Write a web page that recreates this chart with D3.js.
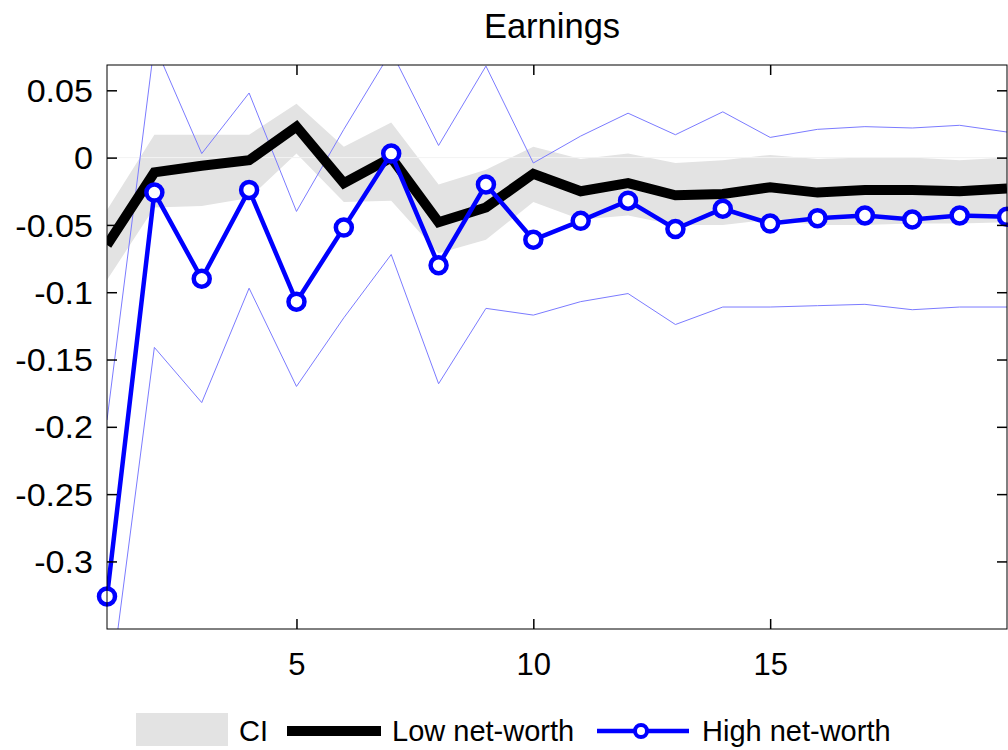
<!DOCTYPE html>
<html>
<head>
<meta charset="utf-8">
<script src="https://cdnjs.cloudflare.com/ajax/libs/d3/7.8.5/d3.min.js"></script>
<style>
  html, body { margin: 0; padding: 0; background: #fff; }
  svg { display: block; }
  text { font-family: "Liberation Sans", Arial, Helvetica, sans-serif; fill: #000; }
</style>
</head>
<body>
<svg id="chart" width="1008" height="750"></svg>
<script>
// ---------- data ----------
const periods = [1,2,3,4,5,6,7,8,9,10,11,12,13,14,15,16,17,18,19,20];
const lowNetWorth = [-0.065,-0.011,-0.006,-0.002,0.023,-0.019,0.000,-0.048,-0.037,-0.012,-0.025,-0.019,-0.028,-0.027,-0.022,-0.026,-0.024,-0.024,-0.025,-0.023];
const highNetWorth = [-0.326,-0.026,-0.090,-0.024,-0.107,-0.052,0.003,-0.080,-0.020,-0.061,-0.047,-0.032,-0.053,-0.038,-0.049,-0.045,-0.043,-0.046,-0.043,-0.044];
const ciLowUpper = [-0.039,0.017,0.017,0.017,0.040,0.008,0.026,-0.020,-0.009,0.008,-0.001,0.003,-0.004,-0.002,0.002,-0.001,0.000,0.000,-0.002,0.000];
const ciLowLower = [-0.091,-0.037,-0.036,-0.030,0.003,-0.033,-0.032,-0.071,-0.061,-0.033,-0.046,-0.043,-0.050,-0.050,-0.046,-0.050,-0.050,-0.049,-0.049,-0.048];
const highUpper = [-0.195,0.084,0.003,0.048,-0.040,0.021,0.079,0.009,0.068,-0.004,0.016,0.033,0.017,0.034,0.015,0.021,0.023,0.022,0.024,0.019];
const highLower = [-0.413,-0.141,-0.182,-0.097,-0.170,-0.119,-0.072,-0.168,-0.112,-0.117,-0.107,-0.101,-0.124,-0.111,-0.111,-0.110,-0.109,-0.113,-0.111,-0.111];
const yTickValues = [0.05,0,-0.05,-0.1,-0.15,-0.2,-0.25,-0.3];
const yTickLabels = ["0.05","0","-0.05","-0.1","-0.15","-0.2","-0.25","-0.3"];
const xTickValues = [5,10,15];
const xTickLabels = ["5","10","15"];
const titleText = "Earnings";
const legendLabels = ["CI","Low net-worth","High net-worth"];

// ---------- layout ----------
const svg = d3.select("#chart");
const L = 107, R = 1007, T = 65, B = 629;
const x = d3.scaleLinear().domain([1,20]).range([L,R]);
const y = d3.scaleLinear().domain([-0.3502,0.0688]).range([B,T]);

const rows = periods.map((p,i)=>({p, low:lowNetWorth[i], high:highNetWorth[i],
  cu:ciLowUpper[i], cl:ciLowLower[i], hu:highUpper[i], hl:highLower[i]}));

svg.append("defs").append("clipPath").attr("id","clip")
  .append("rect").attr("x",L).attr("y",T).attr("width",R-L).attr("height",B-T);

const plot = svg.append("g").attr("clip-path","url(#clip)");

// CI band
plot.append("path").datum(rows)
  .attr("d", d3.area().x(d=>x(d.p)).y0(d=>y(d.cl)).y1(d=>y(d.cu)))
  .attr("fill","#e3e3e3").attr("stroke","none");

// zero line
plot.append("line").attr("x1",L).attr("x2",R).attr("y1",y(0)).attr("y2",y(0))
  .attr("stroke","#f3f3f3").attr("stroke-width",1);

// thin blue bounds
const lineGen = key => d3.line().x(d=>x(d.p)).y(d=>y(d[key]));
["hu","hl"].forEach(k=>{
  plot.append("path").attr("d",lineGen(k)(rows))
    .attr("fill","none").attr("stroke","#7b7bff").attr("stroke-width",1);
});

// low net-worth
plot.append("path").attr("d",lineGen("low")(rows))
  .attr("fill","none").attr("stroke","#000").attr("stroke-width",10)
  .attr("stroke-linejoin","miter");

// high net-worth
plot.append("path").attr("d",lineGen("high")(rows))
  .attr("fill","none").attr("stroke","#0000ff").attr("stroke-width",4.5);
svg.append("g").selectAll("circle").data(rows).join("circle")
  .attr("cx",d=>x(d.p)).attr("cy",d=>y(d.high)).attr("r",8)
  .attr("fill","#fff").attr("stroke","#0000ff").attr("stroke-width",4.5);

// ---------- axes ----------
const yAx = svg.append("g").attr("transform",`translate(${L},0)`)
  .call(d3.axisLeft(y).tickValues(yTickValues).tickSize(-10).tickPadding(14)
    .tickFormat((d,i)=>yTickLabels[i]));
yAx.selectAll("text").style("font-size","31px").attr("dy","0.36em")
  .attr("x",-14/1.1).attr("transform","scale(1.1,1)");
const yAxR = svg.append("g").attr("transform",`translate(${R},0)`)
  .call(d3.axisRight(y).tickValues(yTickValues).tickSize(-10).tickFormat(""));
const xAx = svg.append("g").attr("transform",`translate(0,${B})`)
  .call(d3.axisBottom(x).tickValues(xTickValues).tickSize(-10).tickPadding(24)
    .tickFormat((d,i)=>xTickLabels[i]));
xAx.selectAll("text").style("font-size","31px");
const xAxT = svg.append("g").attr("transform",`translate(0,${T})`)
  .call(d3.axisTop(x).tickValues(xTickValues).tickSize(-10).tickFormat(""));
[yAx,yAxR,xAx,xAxT].forEach(g=>{
  g.select(".domain").remove();
  g.selectAll(".tick line").attr("stroke","#000").attr("stroke-width",1.5);
});
svg.append("rect").attr("x",L).attr("y",T).attr("width",R-L).attr("height",B-T)
  .attr("fill","none").attr("stroke","#000").attr("stroke-width",1);

// title
svg.append("text").attr("x",(L+R)/2-5).attr("y",38).attr("text-anchor","middle")
  .style("font-size","34.5px").text(titleText);

// ---------- legend ----------
const lg = svg.append("g");
const ly = 731;
lg.append("rect").attr("x",136).attr("y",713).attr("width",92).attr("height",33).attr("fill","#e3e3e3");
lg.append("text").attr("x",239).attr("y",ly+10).style("font-size","29px").text(legendLabels[0]);
lg.append("line").attr("x1",287).attr("x2",381).attr("y1",ly).attr("y2",ly).attr("stroke","#000").attr("stroke-width",10);
lg.append("text").attr("x",392).attr("y",ly+10).style("font-size","29px").text(legendLabels[1]);
lg.append("line").attr("x1",597).attr("x2",689).attr("y1",ly).attr("y2",ly).attr("stroke","#0000ff").attr("stroke-width",4.5);
lg.append("circle").attr("cx",641).attr("cy",ly).attr("r",6).attr("fill","#fff").attr("stroke","#0000ff").attr("stroke-width",4);
lg.append("text").attr("x",702).attr("y",ly+10).style("font-size","29px").text(legendLabels[2]);
</script>
</body>
</html>
